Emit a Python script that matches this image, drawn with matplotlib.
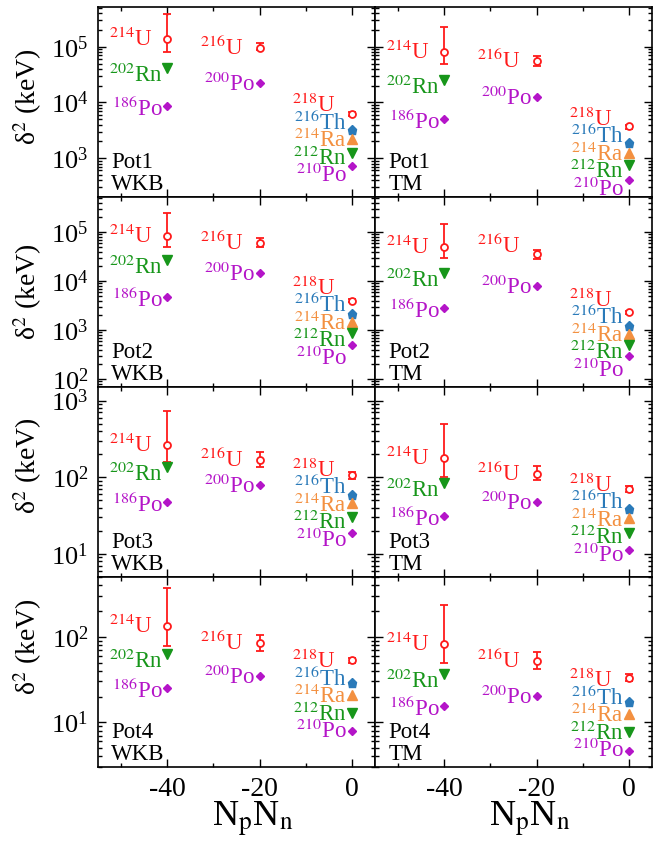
import numpy as np
import matplotlib.pyplot as plt
from matplotlib.ticker import MultipleLocator, NullFormatter, LogLocator

plt.rcParams['font.family'] = ['Liberation Serif', 'DejaVu Serif']
plt.rcParams['mathtext.fontset'] = 'stix'
plt.rcParams['axes.unicode_minus'] = False

# nuclei and their NpNn values
nuclei = ['214U', '202Rn', '186Po', '216U', '200Po', '218U', '216Th', '214Ra', '212Rn', '210Po']
npnn = [-40, -40, -40, -20, -20, 0, 0, 0, 0, 0]

# delta^2 (keV), same order as nuclei
pot1_wkb = [1.4e5, 4.1e4, 8.5e3, 9.5e4, 2.2e4, 6.3e3, 3.2e3, 2.2e3, 1.25e3, 7.1e2]
pot1_tm = [8.0e4, 2.5e4, 5.1e3, 5.6e4, 1.25e4, 3.7e3, 1.87e3, 1.26e3, 7.4e2, 4.0e2]
pot2_wkb = [8.5e4, 2.7e4, 4.8e3, 6.0e4, 1.44e4, 4.0e3, 2.1e3, 1.44e3, 8.8e2, 5.0e2]
pot2_tm = [5.0e4, 1.45e4, 2.8e3, 3.5e4, 8.0e3, 2.3e3, 1.2e3, 8.5e2, 4.9e2, 2.9e2]
pot3_wkb = [265, 135, 47, 168, 79, 107, 59, 46, 30, 19]
pot3_tm = [177, 83, 31.6, 110, 48, 71, 39, 29, 18.6, 11.3]
pot4_wkb = [133, 63, 25, 84, 35, 53, 28.5, 20.8, 13, 7.9]
pot4_tm = [82, 37, 15.7, 52, 20.3, 33, 17.4, 12.5, 7.8, 4.6]

# error bar ranges (low, high) for 214U, 216U, 218U
uerr_pot1_wkb = [(8.1e4, 3.9e5), (8.6e4, 1.16e5), (5.8e3, 6.8e3)]
uerr_pot1_tm = [(4.95e4, 2.26e5), (4.6e4, 6.9e4), (3.4e3, 4.0e3)]
uerr_pot2_wkb = [(5.0e4, 2.4e5), (4.9e4, 7.6e4), (3.7e3, 4.4e3)]
uerr_pot2_tm = [(2.9e4, 1.44e5), (2.8e4, 4.3e4), (2.1e3, 2.5e3)]
uerr_pot3_wkb = [(157, 740), (135, 216), (95, 118)]
uerr_pot3_tm = [(102, 496), (92, 141), (65, 77)]
uerr_pot4_wkb = [(78, 367), (68, 104), (49, 57)]
uerr_pot4_tm = [(50, 234), (42, 66), (30, 37)]

panels = [
    ('Pot1', 'WKB', pot1_wkb, uerr_pot1_wkb), ('Pot1', 'TM', pot1_tm, uerr_pot1_tm),
    ('Pot2', 'WKB', pot2_wkb, uerr_pot2_wkb), ('Pot2', 'TM', pot2_tm, uerr_pot2_tm),
    ('Pot3', 'WKB', pot3_wkb, uerr_pot3_wkb), ('Pot3', 'TM', pot3_tm, uerr_pot3_tm),
    ('Pot4', 'WKB', pot4_wkb, uerr_pot4_wkb), ('Pot4', 'TM', pot4_tm, uerr_pot4_tm),
]
row_ylims = [(2.0e2, 5.2e5), (69, 5.2e5), (5.0, 1.5e3), (3.0, 500)]
ylabel_y = [0.526, 0.502, 0.586, 0.633]

red, blue, orange, green, mag = '#ff1a1a', '#2a7ab9', '#f39040', '#17961a', '#b414c8'
style = {
    'U': dict(marker='o', color=red, ms=5, mfc='white'),
    'Th': dict(marker='p', color=blue, ms=6.5),
    'Ra': dict(marker='^', color=orange, ms=6.5),
    'Rn': dict(marker='v', color=green, ms=6.5),
    'Po': dict(marker='D', color=mag, ms=4.5),
}

# label placement, pixels: (x offset of right edge, y offset of visual centre, + = down)
lab_off = {'214U': (-15, 0), '202Rn': (-5, 7), '186Po': (-5, 3), '216U': (-16, 0), '200Po': (-5, 1)}
lab_fix = {(3, '216U'): -8}

def split(name):
    i = 0
    while name[i].isdigit():
        i += 1
    return name[:i], name[i:]

fig, axes = plt.subplots(4, 2, figsize=(6.67, 8.46), dpi=100, sharex=True, sharey='row')
fig.subplots_adjust(left=98/667, right=652/667, top=1-7/846, bottom=1-767/846, wspace=0, hspace=0)

for k, (pot, meth, vals, uerr) in enumerate(panels):
    ax = axes[k // 2, k % 2]
    ax.set_yscale('log')
    ax.set_xlim(-55, 5)
    ax.set_ylim(*row_ylims[k // 2])
    ax.xaxis.set_major_locator(MultipleLocator(20))
    ax.xaxis.set_minor_locator(MultipleLocator(10))
    ax.yaxis.set_major_locator(LogLocator(base=10, numticks=50))
    ax.yaxis.set_minor_locator(LogLocator(base=10, subs=np.arange(2, 10), numticks=50))
    ax.yaxis.set_minor_formatter(NullFormatter())
    ax.tick_params(which='both', direction='in', top=True, right=True, width=1)
    ax.tick_params(which='major', length=6, pad=7)
    ax.tick_params(which='minor', length=3)
    ax.tick_params(axis='y', labelsize=19)
    ax.tick_params(axis='x', labelsize=20)
    for s in ax.spines.values():
        s.set_linewidth(1.2)

    ui = 0
    for name, x, v in zip(nuclei, npnn, vals):
        mass, el = split(name)
        st = style[el]
        if el == 'U':
            lo, hi = uerr[ui]
            ui += 1
            ax.errorbar([x], [v], yerr=[[v - lo], [hi - v]], fmt='o', color=st['color'],
                        mfc='white', mec=st['color'], ms=st['ms'], mew=1.3,
                        elinewidth=1.3, capsize=3, capthick=1.3, zorder=3)
        else:
            ax.plot([x], [v], ls='none', marker=st['marker'], color=st['color'],
                    ms=st['ms'], zorder=3)

    # labels
    disp = {n: ax.transData.transform((x, v))[1] for n, x, v in zip(nuclei, npnn, vals)}
    stack = [n for n, x in zip(nuclei, npnn) if x == 0]
    mean0 = np.mean([disp[n] for n in stack])
    for name, x, v in zip(nuclei, npnn, vals):
        mass, el = split(name)
        if x == 0:
            i = stack.index(name)
            centre = mean0 - (i - 2) * 17.5
            dx = -17 if el == 'U' else -5
        else:
            dx, dc = lab_off[name]
            dc += lab_fix.get((k, name), 0)
            centre = disp[name] - dc
        base = centre - 7
        ax.annotate(r'$^{%s}$%s' % (mass, el), (x, v),
                    xytext=(dx * 0.72, (base - disp[name]) * 0.72), textcoords='offset points',
                    ha='right', va='baseline', fontsize=16.5, color=style[el]['color'])

    ax.text(0.048, 29/190, pot, transform=ax.transAxes, fontsize=16.5, va='baseline')
    ax.text(0.048, 7/190, meth, transform=ax.transAxes, fontsize=16.5, va='baseline')

    if k % 2 == 0:
        ax.set_ylabel('δ$^2$ (keV)', fontsize=20)
        ax.yaxis.set_label_coords(-0.195, ylabel_y[k // 2])
    if k >= 6:
        ax.set_xlabel(r'N$_{\rm p}$N$_{\rm n}$', fontsize=26)
        ax.xaxis.set_label_coords(0.56, -0.17)

fig.savefig('out.png', dpi=100)
